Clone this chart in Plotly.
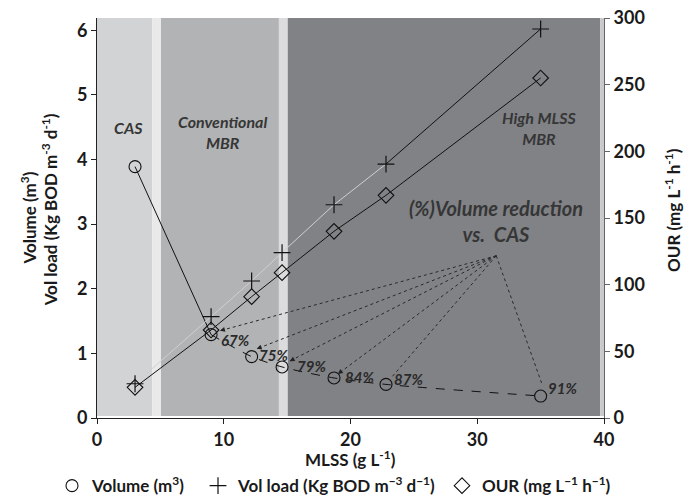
import plotly.graph_objects as go

# ---------------- data ----------------
mlss = [3.0, 9.0, 12.2, 14.6, 18.7, 22.8, 35.0]
volume = [3.89, 1.29, 0.95, 0.79, 0.62, 0.52, 0.34]
vol_load = [0.53, 1.57, 2.12, 2.56, 3.30, 3.93, 6.02]
our = [23, 66, 91, 109, 140, 167, 255]

reduction_labels = ["67%", "75%", "79%", "84%", "87%", "91%"]
reduction_label_x = [10.9, 13.95, 16.9, 20.7, 24.6, 36.7]
reduction_label_y = [1.21, 0.98, 0.80, 0.64, 0.60, 0.47]
arrow_end_x = [9.7, 12.6, 15.2, 19.0, 23.2, 35.1]
arrow_end_y = [1.35, 1.07, 0.88, 0.68, 0.62, 0.53]
arrow_origin = (31.5, 2.51)

regions = ["CAS", "Conventional<br>MBR", "High MLSS<br>MBR"]
region_x = [2.45, 9.9, 34.9]
region_y = [4.50, 4.42, 4.49]
band_edges = [(0, 4.35, "#d2d3d5"), (4.35, 5.05, "#e9e9ea"), (5.05, 14.35, "#b2b3b5"),
              (14.35, 15.05, "#dcdcdd"), (15.05, 39.7, "#818286"), (39.7, 40, "#c9c9cb")]

FONT = "Lato, 'Open Sans', sans-serif"
TXT = "#363636"

fig = go.Figure()

# background bands
for x0, x1, c in band_edges:
    fig.add_shape(type="rect", xref="x", yref="y", x0=x0, x1=x1, y0=0.03, y1=6.19,
                  fillcolor=c, line_width=0, layer="below")

# volume line: solid first segment, dashed curve afterwards
fig.add_trace(go.Scatter(x=mlss[:2], y=volume[:2], mode="lines",
                         line=dict(color="#111", width=1), showlegend=False, hoverinfo="skip"))
fig.add_trace(go.Scatter(x=mlss[1:], y=volume[1:], mode="lines",
                         line=dict(color="#111", width=1, dash="dash", shape="spline", smoothing=0.8),
                         showlegend=False, hoverinfo="skip"))
# vol load line: light then black
fig.add_trace(go.Scatter(x=mlss[:6], y=vol_load[:6], mode="lines",
                         line=dict(color="#d0d0d0", width=1), showlegend=False, hoverinfo="skip"))
fig.add_trace(go.Scatter(x=mlss[5:], y=vol_load[5:], mode="lines",
                         line=dict(color="#111", width=1), showlegend=False, hoverinfo="skip"))
# OUR line
fig.add_trace(go.Scatter(x=mlss, y=our, mode="lines", yaxis="y2",
                         line=dict(color="#111", width=1), showlegend=False, hoverinfo="skip"))

# dotted arrows
for ex, ey in zip(arrow_end_x, arrow_end_y):
    fig.add_trace(go.Scatter(x=[arrow_origin[0], ex], y=[arrow_origin[1], ey], mode="lines",
                             line=dict(color="#2a2a2a", width=1, dash="dot"),
                             showlegend=False, hoverinfo="skip"))
    dx = arrow_origin[0] - ex
    dy = arrow_origin[1] - ey
    fig.add_annotation(x=ex, y=ey, ax=ex + dx * 0.02, ay=ey + dy * 0.02, axref="x", ayref="y",
                       xref="x", yref="y", text="", showarrow=True, arrowhead=2,
                       arrowsize=1, arrowwidth=1, arrowcolor="#222")

# markers (each in its own legend so the row can be placed like the reference)
fig.add_trace(go.Scatter(x=mlss, y=volume, mode="markers", name="Volume (m<sup>3</sup>)",
                         legend="legend",
                         marker=dict(symbol="circle-open", size=12, color="#111",
                                     line=dict(width=1.1, color="#111"))))
fig.add_trace(go.Scatter(x=mlss, y=vol_load, mode="markers",
                         name="Vol load (Kg BOD m<sup>\u22123</sup> d<sup>\u22121</sup>)",
                         legend="legend2",
                         marker=dict(symbol="cross-thin-open", size=12, color="#111",
                                     line=dict(width=1.2, color="#111"))))
fig.add_trace(go.Scatter(x=mlss, y=our, mode="markers", yaxis="y2",
                         name="OUR (mg L<sup>\u22121</sup> h<sup>\u22121</sup>)",
                         legend="legend3",
                         marker=dict(symbol="diamond-open", size=12, color="#111",
                                     line=dict(width=1.1, color="#111"))))

# region labels
for t, x, y in zip(regions, region_x, region_y):
    fig.add_annotation(x=x, y=y, xref="x", yref="y", text="<b><i>" + t + "</i></b>",
                       showarrow=False, font=dict(family=FONT, size=16, color=TXT))

fig.add_annotation(x=31.5, y=3.05, xref="x", yref="y",
                   text="<b><i>(%)Volume reduction<br>vs.  CAS</i></b>",
                   showarrow=False, font=dict(family=FONT, size=20, color=TXT))

for t, x, y in zip(reduction_labels, reduction_label_x, reduction_label_y):
    fig.add_annotation(x=x, y=y, xref="x", yref="y", text="<b><i>" + t + "</i></b>",
                       showarrow=False, font=dict(family=FONT, size=15, color="#2a2a2a"))

# axis titles as annotations
title_font = dict(family=FONT, size=17, color="#1a1a1a")
fig.add_annotation(x=-0.137, y=0.5, xref="paper", yref="paper", xanchor="center", yanchor="middle",
                   text="<b>Volume (m<sup>3</sup>)</b>", textangle=-90, showarrow=False,
                   font=title_font)
fig.add_annotation(x=-0.094, y=0.52, xref="paper", yref="paper", xanchor="center", yanchor="middle",
                   text="<b>Vol load (Kg BOD m<sup>-3</sup> d<sup>-1</sup>)</b>", textangle=-90,
                   showarrow=False, font=title_font)
fig.add_annotation(x=1.134, y=0.52, xref="paper", yref="paper", xanchor="center", yanchor="middle",
                   text="<b>OUR (mg L<sup>-1</sup> h<sup>-1</sup>)</b>", textangle=-90,
                   showarrow=False, font=title_font)
fig.add_annotation(x=0.5, y=-0.1, xref="paper", yref="paper", xanchor="center", yanchor="middle",
                   text="<b>MLSS (g L<sup>-1</sup>)</b>", showarrow=False,
                   font=title_font)

tickfont = dict(family=FONT, size=18, weight="bold", color="#1a1a1a")
legfont = dict(family=FONT, size=17, weight="bold", color="#1a1a1a")


def leg(xpix):
    return dict(orientation="h", xref="container", x=xpix / 691, xanchor="left",
                yref="container", y=0.02, yanchor="middle", font=legfont, itemwidth=30,
                bgcolor="rgba(0,0,0,0)")


fig.update_layout(
    width=691, height=496,
    margin=dict(l=97, r=87, t=18, b=78, autoexpand=False),
    paper_bgcolor="white", plot_bgcolor="white",
    font=dict(family=FONT, size=15, color="#1a1a1a"),
    xaxis=dict(range=[0, 40], tickvals=[0, 10, 20, 30, 40], showgrid=False, zeroline=False,
               showline=True, linecolor="#222", linewidth=1, ticks="outside", ticklen=5,
               tickcolor="#222", tickfont=tickfont),
    yaxis=dict(range=[0, 6.19], tickvals=[0, 1, 2, 3, 4, 5, 6], showgrid=False, zeroline=False,
               showline=True, linecolor="#222", linewidth=1, ticks="outside", ticklen=5,
               tickcolor="#222", tickfont=tickfont),
    yaxis2=dict(range=[0, 300], tickvals=[0, 50, 100, 150, 200, 250, 300], overlaying="y",
                side="right", showgrid=False, zeroline=False, showline=True, linecolor="#666",
                linewidth=1, ticks="outside", ticklen=5, tickcolor="#666",
                tickfont=tickfont),
    legend=leg(52),
    legend2=leg(198),
    legend3=leg(442),
    showlegend=True,
)

fig.write_html("out.html")
